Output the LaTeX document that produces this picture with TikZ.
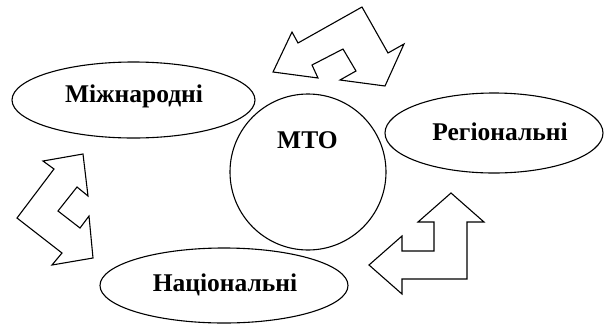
\documentclass[tikz,border=0pt]{standalone}
\usepackage{fontspec}
\setmainfont{Liberation Serif}
\usetikzlibrary{shapes.geometric}

\begin{document}
\begin{tikzpicture}[x=1pt, y=-1pt,
    oval/.style={ellipse, draw, line width=1.1pt, inner sep=0pt},
    lbl/.style={font=\fontsize{25.5}{30}\selectfont\bfseries, anchor=base},
    bentarrow/.style={draw, line width=1.1pt, line join=miter}]
    %% MTO and its levels

    % Frame
    \useasboundingbox (0,0) rectangle (606,325);

    % Shapes
    \node[circle, draw, line width=1.1pt, minimum size=156pt] (mto) at (308,172) {};
    \node[oval, minimum width=243pt, minimum height=76pt] (intl) at (133.5,100) {};
    \node[oval, minimum width=218pt, minimum height=80pt] (reg) at (494,133) {};
    \node[oval, minimum width=248pt, minimum height=75pt] (nat) at (224,285.5) {};

    % Labels
    \node[lbl] (mtoLbl) at (307.5,148) {МТО};
    \node[lbl] (intlLbl) at (134,102.5) {Міжнародні};
    \node[lbl] (regLbl) at (500,140.5) {Регіональні};
    \node[lbl] (natLbl) at (225,291) {Національні};

    % Arrows
    \draw[bentarrow] (362,7) -- (388,53) -- (404,44) -- (385,86) -- (340,80)
        -- (356,71) -- (343,49) -- (312,65) -- (318,78) -- (273,72)
        -- (292,32) -- (298,43) -- cycle;
    \draw[bentarrow] (83,154) -- (88,196) -- (77,187) -- (58,211) -- (80,228)
        -- (89,216) -- (93,258) -- (52,265) -- (62,253) -- (17,218)
        -- (54,169) -- (43,161) -- cycle;
    \draw[bentarrow] (451,193) -- (484,222) -- (467,222) -- (467,279) -- (402,279)
        -- (402,294) -- (369,265) -- (402,236) -- (402,251) -- (434,251)
        -- (434,222) -- (418,222) -- cycle;

\end{tikzpicture}
\end{document}
